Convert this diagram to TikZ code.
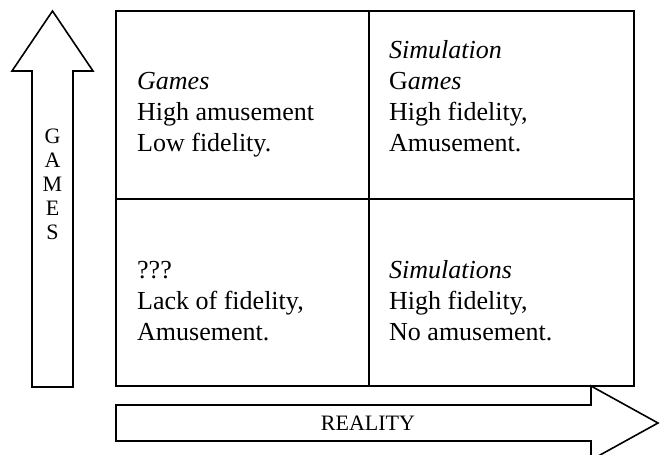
\documentclass[tikz,border=0pt]{standalone}
\usepackage{fontspec}
\setmainfont{Liberation Serif}
\usetikzlibrary{positioning}
\tikzstyle{celltext} = [align=left, inner sep=0pt, anchor=base west, font=\fontsize{26}{31}\selectfont]
\tikzstyle{axistext} = [align=center, inner sep=0pt, font=\fontsize{22}{24}\selectfont]
\tikzstyle{outline} = [line width=1.6pt, line join=miter]

\begin{document}
\begin{tikzpicture}[x=1pt, y=-1pt]
    \useasboundingbox (0,0) rectangle (662,455);
    \clip (0,0) rectangle (662,455);

    % Quadrant grid
    \draw[outline] (116,11) rectangle (634,386);
    \draw[outline] (369,11) -- (369,386);
    \draw[outline] (116,199) -- (634,199);

    % Cell texts
    \node[celltext] (games) at (137,151) {\textit{Games}\\High amusement\\Low fidelity.};
    \node[celltext] (simgames) at (389,151) {\textit{Simulation}\\G\textit{ames}\\High fidelity,\\Amusement.};
    \node[celltext] (unknown) at (137,340) {???\\Lack of fidelity,\\Amusement.};
    \node[celltext] (sims) at (389,340) {\textit{Simulations}\\High fidelity,\\No amusement.};

    % Vertical axis arrow
    \draw[outline] (32,387) -- (32,71) -- (12,71) -- (52.5,11) -- (93,71) -- (73,71) -- (73,387) -- cycle;
    \node[axistext] (gamesaxis) at (52.5,184) {G\\A\\M\\E\\S};

    % Horizontal axis arrow
    \draw[outline] (116,405) -- (591,405) -- (591,386) -- (658,423) -- (591,460) -- (591,441) -- (116,441) -- cycle;
    \node[axistext] (realityaxis) at (368,423) {REALITY};
\end{tikzpicture}
\end{document}
